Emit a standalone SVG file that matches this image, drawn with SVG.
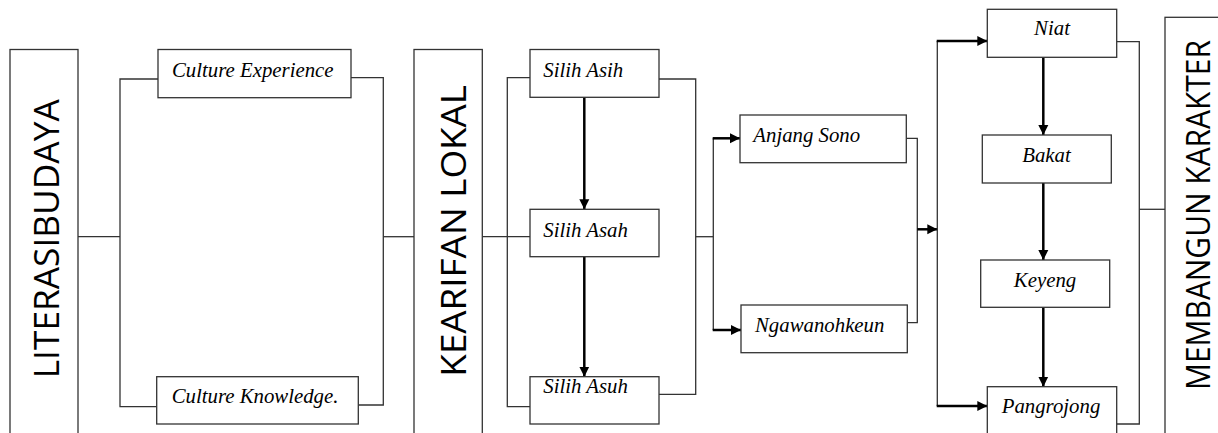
<svg xmlns="http://www.w3.org/2000/svg" width="1218" height="433" viewBox="0 0 1218 433">
<style>
.box{fill:#fff;stroke:#333;stroke-width:1.3}
.ln{fill:none;stroke:#333;stroke-width:1.3}
.ar{fill:none;stroke:#000;stroke-width:2.5}
.it{font-family:"Liberation Serif","Times New Roman",serif;font-style:italic;font-size:20.8px;fill:#000}
.big{font-family:"Open Sans","Liberation Sans",sans-serif;fill:#000;text-anchor:middle}
</style>
<defs>
<marker id="ah" markerUnits="userSpaceOnUse" markerWidth="11" markerHeight="11" refX="10" refY="5.5" orient="auto">
<path d="M0,0.5 L10,5.5 L0,10.5 z" fill="#000"/>
</marker>
</defs>
<rect width="1218" height="433" fill="#fff"/>
<g id="connectors">
<path class="ln" d="M78,236.7 H120"/>
<path class="ln" d="M158,79 H120 V406.7 H156.7"/>
<path class="ln" d="M351,77.7 H383.3 V405 H358.3"/>
<path class="ln" d="M383.3,236.7 H414"/>
<path class="ln" d="M482.3,236.7 H530"/>
<path class="ln" d="M530,77.7 H507.3 V406.7 H530"/>
<path class="ln" d="M659,79 H695.7 V394.3 H659"/>
<path class="ln" d="M695.7,236.7 H713.3"/>
<path class="ln" d="M713.3,138.3 V330"/>
<path class="ar" d="M712.7,138.3 H740" marker-end="url(#ah)"/>
<path class="ar" d="M712.7,330 H741" marker-end="url(#ah)"/>
<path class="ln" d="M906.3,138.3 H917.3 V322.7 H907.3"/>
<path class="ar" d="M917.3,229.3 H937.3" marker-end="url(#ah)"/>
<path class="ln" d="M937.3,41 V406"/>
<path class="ar" d="M936.7,41 H987.3" marker-end="url(#ah)"/>
<path class="ar" d="M936.7,406 H987.3" marker-end="url(#ah)"/>
<path class="ar" d="M584.3,97.3 V209.3" marker-end="url(#ah)"/>
<path class="ar" d="M584.3,256.7 V376.7" marker-end="url(#ah)"/>
<path class="ar" d="M1043.3,57.3 V135" marker-end="url(#ah)"/>
<path class="ar" d="M1043.3,183 V260" marker-end="url(#ah)"/>
<path class="ar" d="M1043.3,307.3 V386.7" marker-end="url(#ah)"/>
<path class="ln" d="M1116.7,41.7 H1139.3 V424 H1116.7"/>
<path class="ln" d="M1139.3,209.3 H1165"/>
</g>
<g id="literasibudaya">
<rect class="box" x="10" y="49.5" width="68" height="400"/>
<text class="big" font-size="34" transform="translate(59.3,238.8) rotate(-90)" textLength="279" lengthAdjust="spacingAndGlyphs">LITERASIBUDAYA</text>
</g>
<g id="culture-experience">
<rect class="box" x="158" y="49.5" width="193" height="48.2"/>
<text class="it" x="172" y="76.7">Culture Experience</text>
</g>
<g id="culture-knowledge">
<rect class="box" x="156.7" y="376.7" width="201.6" height="47.3"/>
<text class="it" x="171.7" y="402.7">Culture Knowledge.</text>
</g>
<g id="kearifan-lokal">
<rect class="box" x="414" y="49.5" width="68.3" height="400"/>
<text class="big" font-size="35" transform="translate(465.5,230.8) rotate(-90)" textLength="291.7" lengthAdjust="spacingAndGlyphs">KEARIFAN LOKAL</text>
</g>
<g id="silih-asih">
<rect class="box" x="530" y="49.5" width="129" height="47.8"/>
<text class="it" x="543.3" y="76.7">Silih Asih</text>
</g>
<g id="silih-asah">
<rect class="box" x="530" y="209.3" width="129" height="47.4"/>
<text class="it" x="543.3" y="236.7">Silih Asah</text>
</g>
<g id="silih-asuh">
<rect class="box" x="530" y="376.7" width="129" height="47.3"/>
<text class="it" x="543.3" y="393.3">Silih Asuh</text>
</g>
<g id="anjang-sono">
<rect class="box" x="740" y="115" width="166.3" height="47.7"/>
<text class="it" x="753.3" y="141.7">Anjang Sono</text>
</g>
<g id="ngawanohkeun">
<rect class="box" x="741" y="305" width="166.3" height="47.7"/>
<text class="it" x="755" y="331.7">Ngawanohkeun</text>
</g>
<g id="niat">
<rect class="box" x="987.3" y="9.3" width="129.4" height="48"/>
<text class="it" x="1052" y="35" text-anchor="middle">Niat</text>
</g>
<g id="bakat">
<rect class="box" x="982.3" y="135" width="129" height="48"/>
<text class="it" x="1046.5" y="161.7" text-anchor="middle">Bakat</text>
</g>
<g id="keyeng">
<rect class="box" x="980.7" y="260" width="129" height="47.3"/>
<text class="it" x="1045" y="286.7" text-anchor="middle">Keyeng</text>
</g>
<g id="pangrojong">
<rect class="box" x="987.3" y="386.7" width="129.4" height="60"/>
<text class="it" x="1051" y="413.3" text-anchor="middle">Pangrojong</text>
</g>
<g id="membangun-karakter">
<rect class="box" x="1165" y="17.3" width="80" height="430"/>
<text class="big" font-size="32" transform="translate(1210,215) rotate(-90)" textLength="350" lengthAdjust="spacingAndGlyphs">MEMBANGUN KARAKTER</text>
</g>
</svg>
